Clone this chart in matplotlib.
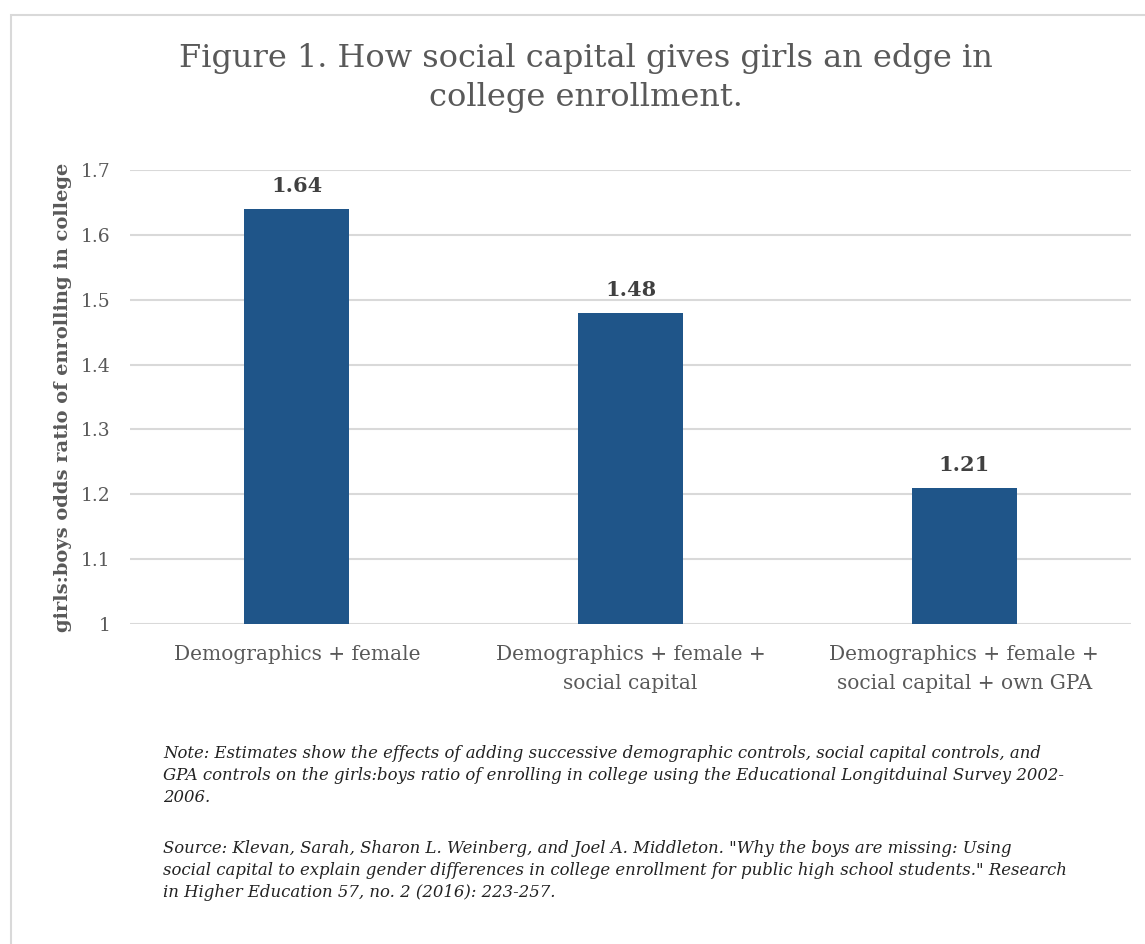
import matplotlib.pyplot as plt
from matplotlib.patches import Rectangle

categories = [
    "Demographics + female",
    "Demographics + female +\nsocial capital",
    "Demographics + female +\nsocial capital + own GPA",
]
odds_ratios = [1.64, 1.48, 1.21]
y_ticks = [1.0, 1.1, 1.2, 1.3, 1.4, 1.5, 1.6, 1.7]
y_tick_labels = ["1", "1.1", "1.2", "1.3", "1.4", "1.5", "1.6", "1.7"]

TITLE = "Figure 1. How social capital gives girls an edge in\ncollege enrollment."
Y_LABEL = "girls:boys odds ratio of enrolling in college"
NOTE = ("Note: Estimates show the effects of adding successive demographic controls, social capital controls, and\n"
        "GPA controls on the girls:boys ratio of enrolling in college using the Educational Longitduinal Survey 2002-\n"
        "2006.")
SOURCE = ("Source: Klevan, Sarah, Sharon L. Weinberg, and Joel A. Middleton. \"Why the boys are missing: Using\n"
          "social capital to explain gender differences in college enrollment for public high school students.\" Research\n"
          "in Higher Education 57, no. 2 (2016): 223-257.")

BAR_COLOR = "#1f5589"
GRID_COLOR = "#d9d9d9"
TEXT_GRAY = "#595959"

plt.rcParams["font.family"] = ["DejaVu Serif"]

fig = plt.figure(figsize=(11.45, 9.44), dpi=100)

# light frame around the chart area
fig.patches.append(Rectangle((11 / 1145, -0.01), 1.1, 1 - 15 / 944 + 0.01,
                             transform=fig.transFigure, fill=False,
                             edgecolor="#d9d9d9", linewidth=1.5))

ax = fig.add_axes([130 / 1145, 1 - 624 / 944, 1001 / 1145, 454 / 944])
x = range(len(categories))
ax.bar(x, [v - 1 for v in odds_ratios], bottom=1, width=0.315, color=BAR_COLOR, zorder=3)

for xi, v in zip(x, odds_ratios):
    ax.text(xi, v + 0.02, f"{v:.2f}", ha="center", va="bottom",
            fontsize=15, fontweight="bold", color="#404040")

ax.set_xlim(-0.5, 2.5)
ax.set_ylim(1.0, 1.7)
ax.set_yticks(y_ticks)
ax.set_yticklabels(y_tick_labels)
ax.set_xticks(list(x))
ax.set_xticklabels(categories, linespacing=1.65)
ax.tick_params(axis="both", length=0, colors=TEXT_GRAY)
ax.tick_params(axis="y", pad=14, labelsize=13.5)
ax.tick_params(axis="x", pad=15, labelsize=14.5)
ax.grid(axis="y", color=GRID_COLOR, linewidth=1.5, zorder=0)
for s in ax.spines.values():
    s.set_visible(False)

ax.set_ylabel(Y_LABEL, fontsize=14, fontweight="bold", color=TEXT_GRAY, labelpad=6)

fig.text(586 / 1145, 1 - 78 / 944, TITLE, ha="center", va="center",
         fontsize=23, color=TEXT_GRAY, linespacing=1.33)

fig.text(163 / 1145, 1 - 745 / 944, NOTE, ha="left", va="top",
         fontsize=11.9, style="italic", color="#222222", linespacing=1.38)
fig.text(163 / 1145, 1 - 840 / 944, SOURCE, ha="left", va="top",
         fontsize=11.9, style="italic", color="#222222", linespacing=1.38)

fig.savefig("out.png", dpi=100, facecolor="white")
